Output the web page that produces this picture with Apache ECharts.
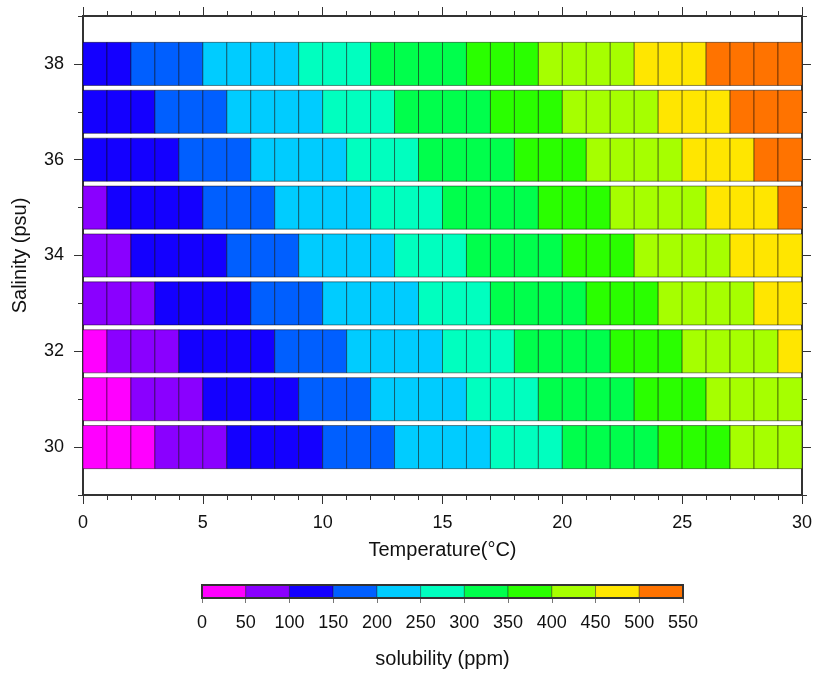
<!DOCTYPE html>
<html>
<head>
<meta charset="utf-8">
<script src="https://cdn.jsdelivr.net/npm/echarts@6/dist/echarts.min.js"></script>
<style>
html,body{margin:0;padding:0;background:#fff;}
#chart{width:815px;height:674px;}
</style>
</head>
<body>
<div id="chart"></div>
<script>
// Temperature cells (left edge of each 1-degree cell)
const temperatures = [0,1,2,3,4,5,6,7,8,9,10,11,12,13,14,15,16,17,18,19,20,21,22,23,24,25,26,27,28,29];
// Salinity rows
const salinities = [30,31,32,33,34,35,36,37,38];
// Estimated solubility (ppm) per salinity row, one value per temperature cell
const sol30 = [18,32,46,61,75,89,104,118,132,146,161,175,189,203,218,232,246,261,275,289,303,318,332,346,361,375,389,403,418,432];
const sol31 = [32,46,61,75,89,104,118,132,146,161,175,189,203,218,232,246,261,275,289,303,318,332,346,361,375,389,403,418,432,446];
const sol32 = [46,61,75,89,104,118,132,146,161,175,189,203,218,232,246,261,275,289,303,318,332,346,361,375,389,403,418,432,446,461];
const sol33 = [61,75,89,104,118,132,146,161,175,189,203,218,232,246,261,275,289,303,318,332,346,361,375,389,403,418,432,446,461,475];
const sol34 = [75,89,104,118,132,146,161,175,189,203,218,232,246,261,275,289,303,318,332,346,361,375,389,403,418,432,446,461,475,489];
const sol35 = [89,104,118,132,146,161,175,189,203,218,232,246,261,275,289,303,318,332,346,361,375,389,403,418,432,446,461,475,489,504];
const sol36 = [104,118,132,146,161,175,189,203,218,232,246,261,275,289,303,318,332,346,361,375,389,403,418,432,446,461,475,489,504,518];
const sol37 = [118,132,146,161,175,189,203,218,232,246,261,275,289,303,318,332,346,361,375,389,403,418,432,446,461,475,489,504,518,532];
const sol38 = [132,146,161,175,189,203,218,232,246,261,275,289,303,318,332,346,361,375,389,403,418,432,446,461,475,489,504,518,532,546];
const solRows = [sol30,sol31,sol32,sol33,sol34,sol35,sol36,sol37,sol38];

// Colour scale levels and colours
const levels = [0,50,100,150,200,250,300,350,400,450,500,550];
const levelColors = ['#ff00ff','#8a00ff','#1400ff','#005fff','#00ccff','#00ffbf','#00ff4c','#2aff00','#a6ff00','#ffe600','#ff7300'];

// X tick labels (every 5), Y tick labels
const xTickLabels = [0,5,10,15,20,25,30];
const yTickLabels = [30,32,34,36,38];

function colorOf(v){
  for (let i = 0; i < levelColors.length; i++) {
    if (v < levels[i+1]) return levelColors[i];
  }
  return levelColors[levelColors.length-1];
}

const cellData = [];
salinities.forEach((s, r) => {
  temperatures.forEach((t, c) => {
    cellData.push([t, s, solRows[r][c]]);
  });
});

const barData = [];
for (let i = 0; i < levelColors.length; i++) {
  barData.push([levels[i], levels[i+1], i]);
}

const FONT = 'Liberation Sans';
const AX = '#333';
const TXT = '#111';
const lineStyle = {color: AX, width: 2};

const chart = echarts.init(document.getElementById('chart'), null, {renderer: 'canvas'});

const yBase = {
  type: 'value', gridIndex: 0, min: 29, max: 39,
  splitLine: {show: false},
  axisLine: {show: true, lineStyle: lineStyle}
};

chart.setOption({
  animation: false,
  backgroundColor: '#fff',
  grid: [
    {left: 83, top: 16, width: 719, height: 479},
    {left: 202, top: 585, width: 481, height: 13}
  ],
  xAxis: [
    {
      type: 'value', gridIndex: 0, position: 'bottom', min: 0, max: 30, interval: 5,
      splitLine: {show: false},
      axisLine: {show: true, onZero: false, lineStyle: lineStyle},
      axisTick: {show: true, length: 9, lineStyle: {color: AX, width: 1}},
      minorTick: {show: true, splitNumber: 5, length: 5, lineStyle: {color: AX, width: 1}},
      axisLabel: {show: true, margin: 19, fontSize: 18, color: TXT, fontFamily: FONT,
        customValues: xTickLabels},
      name: 'Temperature(°C)', nameLocation: 'middle', nameGap: 45,
      nameTextStyle: {fontSize: 20, color: TXT, fontFamily: FONT}
    },
    {
      type: 'value', gridIndex: 0, position: 'top', min: 0, max: 30, interval: 5,
      splitLine: {show: false},
      axisLine: {show: true, onZero: false, lineStyle: lineStyle},
      axisTick: {show: true, length: 9, lineStyle: {color: AX, width: 1}},
      minorTick: {show: true, splitNumber: 5, length: 5, lineStyle: {color: AX, width: 1}},
      axisLabel: {show: false}
    },
    {
      type: 'value', gridIndex: 1, min: 0, max: 550, interval: 50,
      splitLine: {show: false},
      axisLine: {show: false},
      axisTick: {show: true, length: 5, lineStyle: {color: '#777', width: 1}},
      axisLabel: {show: true, margin: 16, fontSize: 18, color: TXT, fontFamily: FONT},
      name: 'solubility (ppm)', nameLocation: 'middle', nameGap: 51,
      nameTextStyle: {fontSize: 20, color: TXT, fontFamily: FONT}
    }
  ],
  yAxis: [
    Object.assign({}, yBase, {
      position: 'left', interval: 1,
      axisTick: {show: true, length: 5, lineStyle: {color: AX, width: 1}},
      axisLabel: {show: false},
      name: 'Salinity (psu)', nameLocation: 'middle', nameGap: 53,
      nameTextStyle: {fontSize: 20, color: TXT, fontFamily: FONT}
    }),
    Object.assign({}, yBase, {
      position: 'left',
      axisTick: {show: true, length: 9, customValues: yTickLabels, lineStyle: {color: AX, width: 1}},
      axisLabel: {show: true, margin: 19, fontSize: 18, color: TXT, fontFamily: FONT, customValues: yTickLabels}
    }),
    Object.assign({}, yBase, {
      position: 'right', interval: 1,
      axisTick: {show: true, length: 5, lineStyle: {color: AX, width: 1}},
      axisLabel: {show: false}
    }),
    Object.assign({}, yBase, {
      position: 'right',
      axisTick: {show: true, length: 9, customValues: yTickLabels, lineStyle: {color: AX, width: 1}},
      axisLabel: {show: false}
    }),
    {type: 'value', gridIndex: 1, min: 0, max: 1, show: false}
  ],
  series: [
    {
      type: 'custom', xAxisIndex: 0, yAxisIndex: 0,
      data: cellData,
      clip: true,
      renderItem: function(params, api){
        const x = api.value(0), y = api.value(1), v = api.value(2);
        const p0 = api.coord([x, y + 0.45]);
        const p1 = api.coord([x + 1, y - 0.45]);
        return {
          type: 'rect',
          shape: {x: p0[0], y: p0[1], width: p1[0] - p0[0], height: p1[1] - p0[1]},
          style: {fill: colorOf(v), stroke: 'rgba(0,0,0,0.45)', lineWidth: 1}
        };
      }
    },
    {
      type: 'custom', xAxisIndex: 2, yAxisIndex: 4,
      data: barData,
      renderItem: function(params, api){
        const lo = api.value(0), hi = api.value(1), ci = api.value(2);
        const p0 = api.coord([lo, 1]);
        const p1 = api.coord([hi, 0]);
        return {
          type: 'rect',
          shape: {x: p0[0], y: p0[1], width: p1[0] - p0[0], height: p1[1] - p0[1]},
          style: {fill: levelColors[ci], stroke: 'rgba(0,0,0,0.35)', lineWidth: 1}
        };
      }
    }
  ],
  graphic: [
    {
      type: 'rect', z: 100, silent: true,
      shape: {x: 202, y: 585, width: 481, height: 13},
      style: {fill: 'none', stroke: '#333', lineWidth: 2}
    }
  ]
});
</script>
</body>
</html>
